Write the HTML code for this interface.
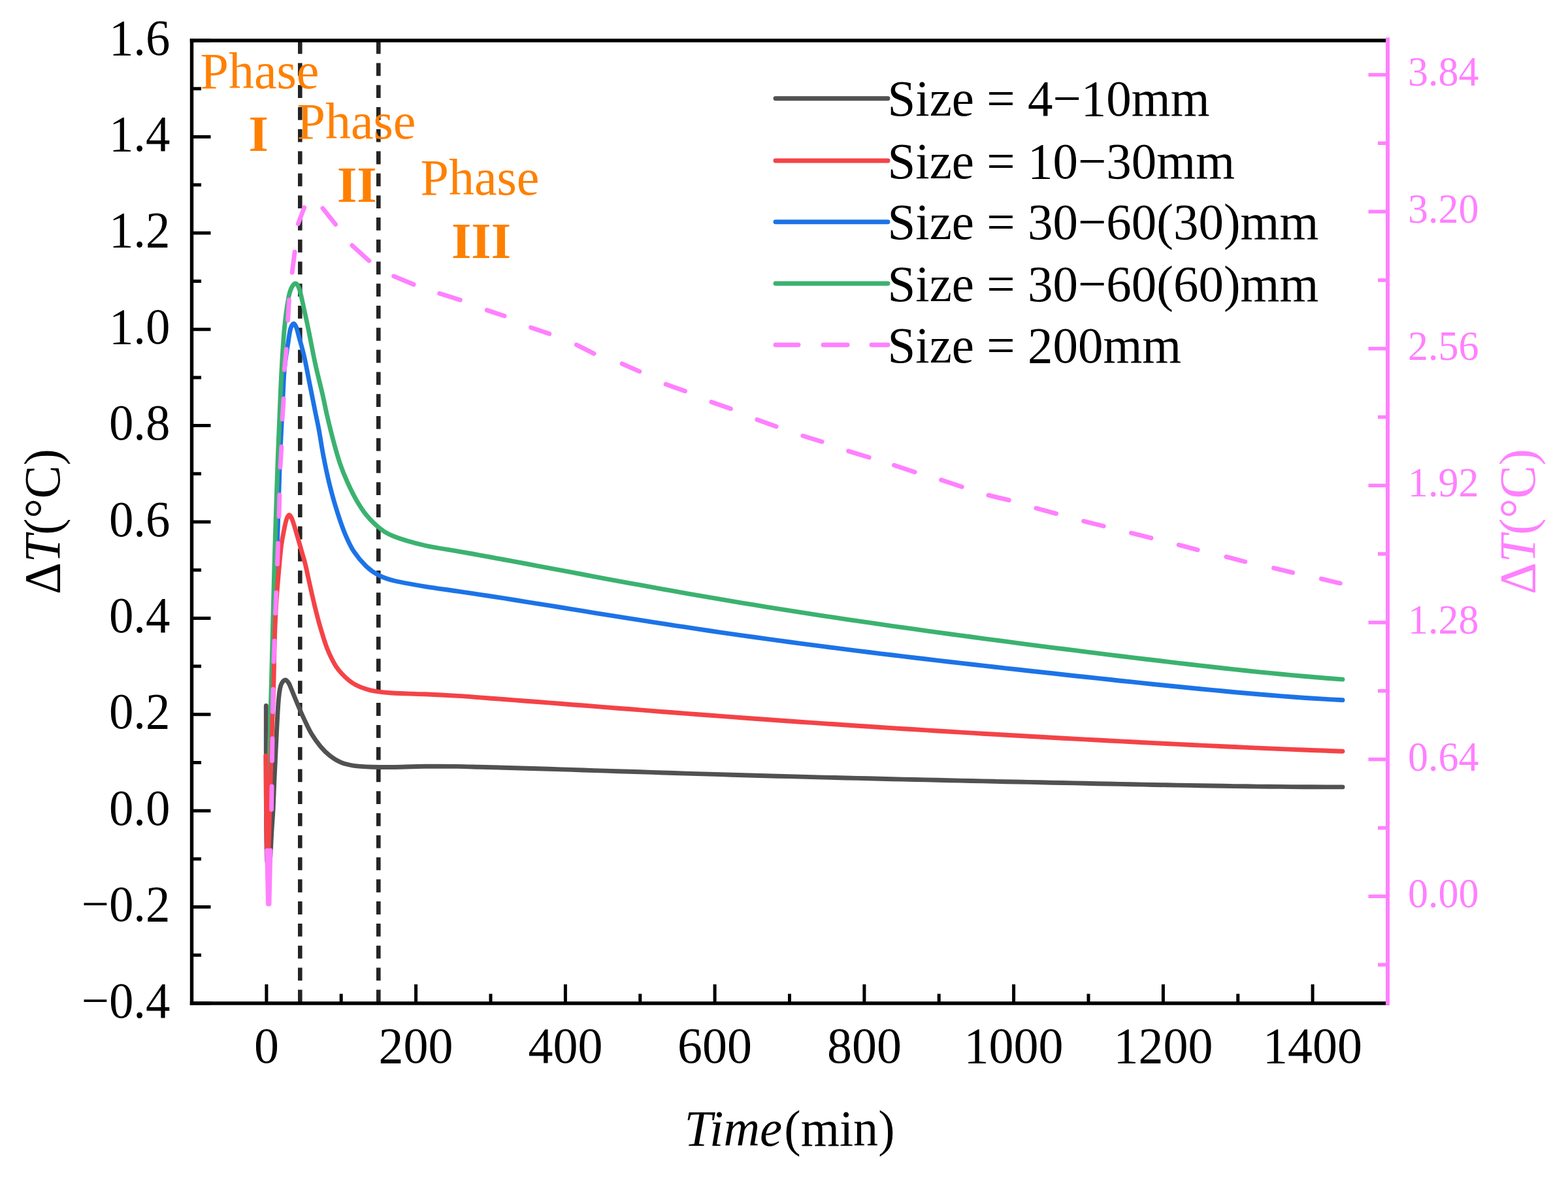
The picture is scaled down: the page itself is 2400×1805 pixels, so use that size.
<!DOCTYPE html>
<html><head><meta charset="utf-8"><title>Delta T vs Time</title><style>
html,body{margin:0;padding:0;background:#fff;overflow:hidden;}
svg{display:block;}
text{font-family:"Liberation Serif","Times New Roman",serif;}
</style></head><body>
<svg width="2400" height="1805" viewBox="0 0 2400 1805">
<rect width="100%" height="100%" fill="#fff"/>
<line x1="459.3" y1="62.7" x2="459.3" y2="1536" stroke="#242424" stroke-width="6.6" stroke-dasharray="19.8 13.98"/>
<line x1="579.3" y1="62.7" x2="579.3" y2="1536" stroke="#242424" stroke-width="6.6" stroke-dasharray="19.8 13.98"/>
<g fill="none" stroke-width="6.9" stroke-linecap="round" stroke-linejoin="round">
<path stroke="#515151" d="M407.3,1080.5C407.3,1100.4 407.2,1162.6 407.4,1200C407.5,1237.4 407.7,1284.8 408.2,1305C408.7,1325.2 409.6,1319.5 410.5,1321C411.4,1322.5 412.6,1322.5 413.5,1314C414.4,1305.5 415.2,1282.3 416,1270C416.8,1257.7 417.3,1253 418,1240C418.7,1227 419.2,1209 420,1192C420.8,1175 421.9,1153 422.6,1138C423.3,1123 423.8,1113.3 424.4,1102C425,1090.7 425.8,1078 426.5,1070C427.2,1062 427.8,1058.1 428.6,1054C429.4,1049.9 430.1,1047.7 431.5,1045.5C432.9,1043.3 435.2,1040.9 437,1041C438.8,1041.1 440.5,1043.7 442,1046C443.5,1048.3 443.8,1049.7 446,1055C448.2,1060.3 452.2,1070.3 455.3,1077.7C458.4,1085.1 461.2,1091.7 464.8,1099.4C468.4,1107.1 472.7,1116.6 477,1123.8C481.3,1131 486,1137.4 490.5,1142.8C495,1148.2 498.9,1152.2 504.1,1156.3C509.3,1160.4 515.4,1164.5 521.7,1167.2C528,1169.9 534.1,1171.2 542.1,1172.4C550.1,1173.6 560.4,1173.9 570,1174.2C579.6,1174.5 586.7,1174.7 600,1174.5C613.3,1174.3 633.3,1173.5 650,1173.3C666.7,1173.1 685.8,1173.2 700,1173.4C714.2,1173.6 723.3,1174 735,1174.3C746.7,1174.6 758.3,1174.9 770,1175.2C781.7,1175.5 793.3,1175.9 805,1176.2C816.7,1176.6 828.3,1177 840,1177.3C851.7,1177.7 863.3,1178.1 875,1178.4C886.7,1178.8 898.3,1179.2 910,1179.6C921.7,1179.9 933.3,1180.3 945,1180.7C956.7,1181.1 968.3,1181.5 980,1181.8C991.7,1182.2 1003.3,1182.6 1015,1183C1026.7,1183.3 1038.3,1183.7 1050,1184.1C1061.7,1184.4 1073.3,1184.8 1085,1185.1C1096.7,1185.5 1108.3,1185.8 1120,1186.2C1131.7,1186.5 1143.3,1186.9 1155,1187.2C1166.7,1187.5 1178.3,1187.9 1190,1188.2C1201.7,1188.5 1213.3,1188.8 1225,1189.1C1236.7,1189.4 1248.3,1189.8 1260,1190.1C1271.7,1190.4 1283.3,1190.7 1295,1191C1306.7,1191.3 1318.3,1191.5 1330,1191.8C1341.7,1192.1 1353.3,1192.4 1365,1192.7C1376.7,1193 1388.3,1193.2 1400,1193.5C1411.7,1193.8 1423.3,1194 1435,1194.3C1446.7,1194.6 1458.3,1194.8 1470,1195.1C1481.7,1195.4 1493.3,1195.6 1505,1195.9C1516.7,1196.2 1528.3,1196.4 1540,1196.7C1551.7,1196.9 1563.3,1197.2 1575,1197.4C1586.7,1197.7 1598.3,1197.9 1610,1198.2C1621.7,1198.4 1633.3,1198.7 1645,1198.9C1656.7,1199.2 1668.3,1199.4 1680,1199.7C1691.7,1199.9 1703.3,1200.2 1715,1200.4C1726.7,1200.6 1738.3,1200.9 1750,1201.1C1761.7,1201.3 1773.3,1201.6 1785,1201.8C1796.7,1202 1808.3,1202.2 1820,1202.4C1831.7,1202.6 1843.3,1202.8 1855,1203C1866.7,1203.2 1878.3,1203.4 1890,1203.6C1901.7,1203.7 1913.3,1203.9 1925,1204.1C1936.7,1204.2 1948.3,1204.3 1960,1204.4C1971.7,1204.6 1983.3,1204.7 1995,1204.7C2006.7,1204.8 2020,1204.9 2030,1204.9C2040,1204.9 2050.8,1204.9 2055,1204.9"/>
<path stroke="#1c73e7" d="M407.5,1230C407.8,1235.8 408.4,1264.2 409,1265C409.6,1265.8 410.3,1252.5 411,1235C411.7,1217.5 412.2,1185.8 413,1160C413.8,1134.2 414.7,1103.3 415.5,1080C416.3,1056.7 417.2,1040 418,1020C418.8,1000 419.7,983.3 420.5,960C421.3,936.7 421.9,913.9 423,880C424.1,846.1 425.8,787.5 426.8,756.4C427.8,725.3 428,714.3 428.9,693.3C429.8,672.3 430.9,651.3 432,630.3C433.1,609.3 433.8,584.2 435.2,567.2C436.6,550.2 438.9,538.5 440.5,528C442.1,517.5 443,509.4 444.5,504C446,498.6 447.8,496 449.3,495.5C450.8,495 452.2,497.8 453.5,501C454.8,504.2 455.3,507.1 457.3,514.6C459.3,522.1 462.9,533.9 465.7,546.2C468.5,558.5 471.3,574.2 474.1,588.2C476.9,602.2 480.1,618.3 482.5,630.3C484.9,642.3 486.4,648.4 488.5,660C490.6,671.6 492.6,686 495.4,700C498.1,714 501.5,730.1 505,744.2C508.5,758.3 512.6,772.4 516.5,784.6C520.4,796.8 523.9,807.4 528.1,817.3C532.3,827.2 536,835.9 541.5,844.2C547,852.5 554.4,861.2 560.8,867.3C567.2,873.4 572.6,877.1 580,880.8C587.4,884.5 593.3,886.7 605,889.5C616.7,892.3 634.2,895.2 650,897.8C665.8,900.4 685.8,903 700,905.1C714.2,907.1 723.3,908.5 735,910.3C746.7,912.1 758.3,913.9 770,915.7C781.7,917.6 793.3,919.4 805,921.3C816.7,923.2 828.3,925.1 840,926.9C851.7,928.8 863.3,930.7 875,932.6C886.7,934.5 898.3,936.4 910,938.3C921.7,940.2 933.3,942 945,943.9C956.7,945.8 968.3,947.6 980,949.4C991.7,951.3 1003.3,953.1 1015,954.9C1026.7,956.7 1038.3,958.5 1050,960.2C1061.7,962 1073.3,963.7 1085,965.5C1096.7,967.2 1108.3,968.9 1120,970.6C1131.7,972.2 1143.3,973.9 1155,975.5C1166.7,977.2 1178.3,978.8 1190,980.4C1201.7,982 1213.3,983.5 1225,985.1C1236.7,986.6 1248.3,988.2 1260,989.7C1271.7,991.2 1283.3,992.7 1295,994.2C1306.7,995.6 1318.3,997.1 1330,998.5C1341.7,1000 1353.3,1001.4 1365,1002.8C1376.7,1004.2 1388.3,1005.6 1400,1007C1411.7,1008.4 1423.3,1009.7 1435,1011.1C1446.7,1012.5 1458.3,1013.8 1470,1015.1C1481.7,1016.5 1493.3,1017.8 1505,1019.1C1516.7,1020.5 1528.3,1021.8 1540,1023.1C1551.7,1024.4 1563.3,1025.7 1575,1027C1586.7,1028.3 1598.3,1029.6 1610,1030.8C1621.7,1032.1 1633.3,1033.4 1645,1034.7C1656.7,1035.9 1668.3,1037.2 1680,1038.4C1691.7,1039.7 1703.3,1040.9 1715,1042.2C1726.7,1043.4 1738.3,1044.6 1750,1045.9C1761.7,1047.1 1773.3,1048.3 1785,1049.5C1796.7,1050.7 1808.3,1051.8 1820,1053C1831.7,1054.1 1843.3,1055.3 1855,1056.4C1866.7,1057.5 1878.3,1058.6 1890,1059.7C1901.7,1060.7 1913.3,1061.7 1925,1062.7C1936.7,1063.7 1948.3,1064.7 1960,1065.6C1971.7,1066.5 1983.3,1067.4 1995,1068.2C2006.7,1069 2020,1069.8 2030,1070.4C2040,1071 2050.8,1071.5 2055,1071.8"/>
<path stroke="#3bb26f" d="M407.5,1240C407.8,1243.7 408.4,1265.3 409,1262C409.6,1258.7 410.2,1240.3 410.8,1220C411.4,1199.7 412.2,1161.7 412.8,1140C413.4,1118.3 413.8,1106.7 414.2,1090C414.6,1073.3 414.9,1063.3 415.5,1040C416.1,1016.7 417.1,979.2 417.8,950C418.6,920.8 419.1,897.3 420,865C420.9,832.7 422.5,785 423.4,756.4C424.3,727.8 424.8,714.3 425.6,693.3C426.4,672.3 427.3,651.3 428.2,630.3C429.1,609.3 429.8,588.2 431,567.2C432.2,546.2 433.4,522.6 435.2,504.1C436.9,485.7 439.6,467.2 441.5,456.5C443.4,445.8 444.6,443.8 446.5,440C448.4,436.2 450.8,433.7 452.7,434C454.6,434.3 456.4,437.7 458,442C459.6,446.3 460.2,449.6 462.5,460C464.8,470.4 468.7,488 472,504.1C475.3,520.2 478.9,540.2 482.5,556.7C486.1,573.2 490.4,589.4 493.5,603C496.6,616.6 498.3,626.2 501.2,638.5C504.1,650.8 507.6,665 510.8,676.9C514,688.8 516.9,699.3 520.4,709.6C523.9,719.9 527.7,729.2 531.9,738.5C536.1,747.8 540.6,757.1 545.4,765.4C550.2,773.7 555,781.5 560.8,788.5C566.6,795.5 573,802.2 580,807.7C587,813.2 591.4,816.7 603.1,821.2C614.8,825.8 633.9,831.2 650,835C666.1,838.8 685.8,841.3 700,843.8C714.2,846.3 723.3,847.9 735,850.1C746.7,852.2 758.3,854.3 770,856.5C781.7,858.6 793.3,860.8 805,863C816.7,865.2 828.3,867.4 840,869.6C851.7,871.8 863.3,874 875,876.2C886.7,878.4 898.3,880.6 910,882.8C921.7,885 933.3,887.1 945,889.3C956.7,891.5 968.3,893.6 980,895.7C991.7,897.9 1003.3,900 1015,902.1C1026.7,904.2 1038.3,906.2 1050,908.3C1061.7,910.4 1073.3,912.4 1085,914.4C1096.7,916.4 1108.3,918.4 1120,920.4C1131.7,922.3 1143.3,924.3 1155,926.2C1166.7,928.1 1178.3,930 1190,931.9C1201.7,933.7 1213.3,935.6 1225,937.4C1236.7,939.2 1248.3,941 1260,942.8C1271.7,944.6 1283.3,946.3 1295,948.1C1306.7,949.8 1318.3,951.5 1330,953.2C1341.7,955 1353.3,956.6 1365,958.3C1376.7,960 1388.3,961.6 1400,963.2C1411.7,964.9 1423.3,966.5 1435,968.1C1446.7,969.7 1458.3,971.3 1470,972.9C1481.7,974.4 1493.3,976 1505,977.6C1516.7,979.1 1528.3,980.7 1540,982.2C1551.7,983.7 1563.3,985.2 1575,986.8C1586.7,988.3 1598.3,989.8 1610,991.3C1621.7,992.8 1633.3,994.2 1645,995.7C1656.7,997.2 1668.3,998.7 1680,1000.1C1691.7,1001.6 1703.3,1003 1715,1004.5C1726.7,1005.9 1738.3,1007.3 1750,1008.7C1761.7,1010.1 1773.3,1011.5 1785,1012.9C1796.7,1014.3 1808.3,1015.7 1820,1017C1831.7,1018.4 1843.3,1019.7 1855,1021C1866.7,1022.3 1878.3,1023.6 1890,1024.9C1901.7,1026.1 1913.3,1027.4 1925,1028.6C1936.7,1029.8 1948.3,1030.9 1960,1032C1971.7,1033.2 1983.3,1034.3 1995,1035.3C2006.7,1036.3 2020,1037.4 2030,1038.2C2040,1039 2050.8,1039.8 2055,1040.1"/>
<path stroke="#f44347" d="M406.8,1157C406.9,1169.2 407.1,1206.5 407.4,1230C407.7,1253.5 408,1286.2 408.6,1298C409.2,1309.8 410.1,1310.7 410.8,1301C411.5,1291.3 412.1,1263.5 412.8,1240C413.5,1216.5 414.3,1183.3 415,1160C415.7,1136.7 416.4,1116.7 417,1100C417.6,1083.3 418,1076.7 418.5,1060C419,1043.3 419.4,1017.5 419.8,1000C420.2,982.5 420.6,968.8 421.2,955C421.8,941.2 422.2,931.5 423.2,917C424.2,902.5 426.1,881.7 427.3,868C428.5,854.3 429.3,844.7 430.6,835C431.9,825.3 433.8,816.3 435.1,809.6C436.4,802.9 437.4,798.5 438.6,795C439.8,791.5 441.1,788.9 442.3,788.5C443.5,788.1 444.8,790.1 446,792.5C447.2,794.9 448.1,797.5 449.8,803C451.6,808.5 454.5,818.8 456.5,825.6C458.5,832.4 459.9,837.8 461.7,844C463.4,850.2 465.2,855.5 467,862.6C468.8,869.7 470.5,878.5 472.3,886.4C474.1,894.3 475.8,902.5 477.6,910.2C479.4,917.9 481.2,926 482.9,932.7C484.5,939.4 486.1,945.2 487.5,950.5C488.9,955.8 490.1,959.7 491.5,964.4C492.9,969.1 494.3,974 495.9,978.8C497.5,983.6 499,988.5 500.9,993.3C502.8,998.1 505.1,1003.1 507.4,1007.7C509.7,1012.3 512,1016.7 514.6,1020.7C517.2,1024.7 520,1028 523.3,1031.5C526.5,1035 530.5,1038.7 534.1,1041.6C537.7,1044.5 540.7,1046.6 544.9,1048.8C549.1,1051 554.5,1053 559.3,1054.5C564.1,1056 566.9,1057 573.7,1058.1C580.5,1059.2 587.3,1060.2 600,1061C612.7,1061.8 633.3,1062.1 650,1062.8C666.7,1063.5 685.8,1064.5 700,1065.4C714.2,1066.2 723.3,1067 735,1067.9C746.7,1068.8 758.3,1069.6 770,1070.5C781.7,1071.4 793.3,1072.3 805,1073.2C816.7,1074.1 828.3,1075 840,1075.9C851.7,1076.8 863.3,1077.8 875,1078.7C886.7,1079.6 898.3,1080.5 910,1081.4C921.7,1082.4 933.3,1083.3 945,1084.2C956.7,1085.1 968.3,1086 980,1086.9C991.7,1087.9 1003.3,1088.8 1015,1089.7C1026.7,1090.6 1038.3,1091.5 1050,1092.4C1061.7,1093.3 1073.3,1094.2 1085,1095C1096.7,1095.9 1108.3,1096.8 1120,1097.6C1131.7,1098.5 1143.3,1099.4 1155,1100.2C1166.7,1101.1 1178.3,1101.9 1190,1102.7C1201.7,1103.6 1213.3,1104.4 1225,1105.2C1236.7,1106 1248.3,1106.8 1260,1107.6C1271.7,1108.4 1283.3,1109.2 1295,1110C1306.7,1110.8 1318.3,1111.6 1330,1112.3C1341.7,1113.1 1353.3,1113.8 1365,1114.6C1376.7,1115.3 1388.3,1116.1 1400,1116.8C1411.7,1117.5 1423.3,1118.3 1435,1119C1446.7,1119.7 1458.3,1120.4 1470,1121.1C1481.7,1121.8 1493.3,1122.5 1505,1123.2C1516.7,1123.9 1528.3,1124.6 1540,1125.2C1551.7,1125.9 1563.3,1126.6 1575,1127.2C1586.7,1127.9 1598.3,1128.6 1610,1129.2C1621.7,1129.9 1633.3,1130.5 1645,1131.1C1656.7,1131.8 1668.3,1132.4 1680,1133C1691.7,1133.7 1703.3,1134.3 1715,1134.9C1726.7,1135.5 1738.3,1136.1 1750,1136.7C1761.7,1137.3 1773.3,1137.9 1785,1138.5C1796.7,1139.1 1808.3,1139.7 1820,1140.2C1831.7,1140.8 1843.3,1141.4 1855,1141.9C1866.7,1142.5 1878.3,1143 1890,1143.5C1901.7,1144.1 1913.3,1144.6 1925,1145.1C1936.7,1145.6 1948.3,1146.1 1960,1146.6C1971.7,1147.1 1983.3,1147.6 1995,1148C2006.7,1148.5 2020,1149 2030,1149.3C2040,1149.7 2050.8,1150.1 2055,1150.2"/>
<path stroke="#ff80ff" d="M451.1,385.6 L447.2,417.1 M465.7,317.7 L456.3,342.6 M493.9,318.9 L513.6,343.5 M538.9,375.7 L564.9,399.2 M602.8,422.9 L633.2,435.5 M672.7,449.3 L704.4,459.3 M745.4,474.9 L772.1,483.7 M812.7,501.4 L840.8,511.1 M882.4,527.9 L909.1,541.3 M952.1,556.8 L978.8,568.7 M1019.1,588.3 L1048.5,598.8 M1089,615.4 L1118.4,625.8 M1158.9,642.4 L1188.2,652.9 M1228.8,667.2 L1258.1,676.3 M1298.6,690.6 L1330.2,700.2 M1368.5,712.3 L1400.1,722.7 M1440.6,734.8 L1472.2,745.3 M1512.9,758.2 L1544.3,765.7 M1585.9,778 L1616.6,786.3 M1658.6,797.8 L1689.3,805.5 M1731.4,816 L1762,823.7 M1804.1,834.2 L1833.1,841.8 M1876.8,852.4 L1905.8,860 M1949.5,869.6 L1978.6,876.6 M2022.3,886.1 L2051.3,893.1 M442.5,459 L440.6,490.3 M438.3,534.7 L435.3,566 M434.1,610.4 L432.1,641.7 M430.9,684 L429,715.3 M427.9,757.7 L427,790.6 M425.6,831.8 L424.5,863.6 M422.8,907.1 L421.5,938.9 M420.1,981.3 L419,1013.1 M418.2,1055.2 L417.5,1089.8 M417,1130.8 L416.5,1164.8 M416,1203.9 L415.5,1239.2 M408.6,1302 L409.5,1340 L410.5,1384 M412.0,1384 L413.0,1340 L414.0,1302"/>
</g>
<path d="M293.5,1536 H322.5 M293.5,1388.6 H322.5 M293.5,1241.2 H322.5 M293.5,1093.8 H322.5 M293.5,946.4 H322.5 M293.5,799 H322.5 M293.5,651.6 H322.5 M293.5,504.2 H322.5 M293.5,356.8 H322.5 M293.5,209.4 H322.5 M293.5,62 H322.5 M293.5,1462.3 H308 M293.5,1314.9 H308 M293.5,1167.5 H308 M293.5,1020.1 H308 M293.5,872.7 H308 M293.5,725.3 H308 M293.5,577.9 H308 M293.5,430.5 H308 M293.5,283.1 H308 M293.5,135.7 H308 M407.9,1536 V1507 M636.6,1536 V1507 M865.4,1536 V1507 M1094.1,1536 V1507 M1322.9,1536 V1507 M1551.6,1536 V1507 M1780.4,1536 V1507 M2009.1,1536 V1507 M522.2,1536 V1521.5 M751,1536 V1521.5 M979.8,1536 V1521.5 M1208.5,1536 V1521.5 M1437.2,1536 V1521.5 M1666,1536 V1521.5 M1894.8,1536 V1521.5" stroke="#000" stroke-width="5" fill="none"/>
<path d="M2123.5,1372.2 H2094.5 M2123.5,1162.6 H2094.5 M2123.5,953 H2094.5 M2123.5,743.3 H2094.5 M2123.5,533.7 H2094.5 M2123.5,324 H2094.5 M2123.5,114.4 H2094.5 M2123.5,1477 H2109 M2123.5,1267.4 H2109 M2123.5,1057.8 H2109 M2123.5,848.1 H2109 M2123.5,638.5 H2109 M2123.5,428.9 H2109 M2123.5,219.2 H2109" stroke="#ff80ff" stroke-width="5.5" fill="none"/>
<path d="M2123.5,62 V62 H293.5 M293.5,1536 H2123.5" stroke="#000" stroke-width="5.4" fill="none" stroke-linecap="square"/>
<path d="M293.5,62 V1536" stroke="#000" stroke-width="5.4" fill="none" stroke-linecap="square"/>
<path d="M2124,57.4 V1538.7" stroke="#ff80ff" stroke-width="6" fill="none" stroke-linecap="butt"/>
<g fill="#000">
<text transform="translate(260.5,1557.5) scale(0.985,1.025)" font-size="76" text-anchor="end">−0.4</text>
<text transform="translate(260.5,1410.1) scale(0.985,1.025)" font-size="76" text-anchor="end">−0.2</text>
<text transform="translate(260.5,1262.7) scale(0.985,1.025)" font-size="76" text-anchor="end">0.0</text>
<text transform="translate(260.5,1115.3) scale(0.985,1.025)" font-size="76" text-anchor="end">0.2</text>
<text transform="translate(260.5,967.9) scale(0.985,1.025)" font-size="76" text-anchor="end">0.4</text>
<text transform="translate(260.5,820.5) scale(0.985,1.025)" font-size="76" text-anchor="end">0.6</text>
<text transform="translate(260.5,673.1) scale(0.985,1.025)" font-size="76" text-anchor="end">0.8</text>
<text transform="translate(260.5,525.7) scale(0.985,1.025)" font-size="76" text-anchor="end">1.0</text>
<text transform="translate(260.5,378.3) scale(0.985,1.025)" font-size="76" text-anchor="end">1.2</text>
<text transform="translate(260.5,230.9) scale(0.985,1.025)" font-size="76" text-anchor="end">1.4</text>
<text transform="translate(260.5,83.5) scale(0.985,1.025)" font-size="76" text-anchor="end">1.6</text>
<text transform="translate(407.9,1627) scale(1.000,1.025)" font-size="76" text-anchor="middle">0</text>
<text transform="translate(636.6,1627) scale(1.000,1.025)" font-size="76" text-anchor="middle">200</text>
<text transform="translate(865.4,1627) scale(1.000,1.025)" font-size="76" text-anchor="middle">400</text>
<text transform="translate(1094.1,1627) scale(1.000,1.025)" font-size="76" text-anchor="middle">600</text>
<text transform="translate(1322.9,1627) scale(1.000,1.025)" font-size="76" text-anchor="middle">800</text>
<text transform="translate(1551.6,1627) scale(1.000,1.025)" font-size="76" text-anchor="middle">1000</text>
<text transform="translate(1780.4,1627) scale(1.000,1.025)" font-size="76" text-anchor="middle">1200</text>
<text transform="translate(2009.1,1627) scale(1.000,1.025)" font-size="76" text-anchor="middle">1400</text>
</g>
<g fill="#ff80ff">
<text transform="translate(2155,1389.2) scale(1.000,1.025)" font-size="62">0.00</text>
<text transform="translate(2155,1179.6) scale(1.000,1.025)" font-size="62">0.64</text>
<text transform="translate(2155,970) scale(1.000,1.025)" font-size="62">1.28</text>
<text transform="translate(2155,760.3) scale(1.000,1.025)" font-size="62">1.92</text>
<text transform="translate(2155,550.7) scale(1.000,1.025)" font-size="62">2.56</text>
<text transform="translate(2155,341) scale(1.000,1.025)" font-size="62">3.20</text>
<text transform="translate(2155,131.4) scale(1.000,1.025)" font-size="62">3.84</text>
</g>
<text transform="translate(91,910) rotate(-90) scale(1.000,1.025)" font-size="76">Δ<tspan font-style="italic">T</tspan>(°C)</text>
<text transform="translate(2349,910) rotate(-90) scale(1.000,1.025)" font-size="76" fill="#ff80ff">Δ<tspan font-style="italic">T</tspan>(°C)</text>
<text transform="translate(1047.5,1753.5) scale(1.000,1.025)" font-size="77" font-style="italic">Time</text>
<text transform="translate(1200.3,1753.5) scale(1.000,1.025)" font-size="76.2">(min)</text>
<g fill="#ff8000">
<text transform="translate(306.5,135)" font-size="78">Phase</text>
<text transform="translate(380.5,230.8)" font-size="78" font-weight="bold">I</text>
<text transform="translate(454.5,212.4)" font-size="78">Phase</text>
<text transform="translate(516,308.6)" font-size="78" font-weight="bold">II</text>
<text transform="translate(643.5,298.3)" font-size="78">Phase</text>
<text transform="translate(691,394.8)" font-size="78" font-weight="bold">III</text>
</g>
<g>
<path d="M1187,150.7 H1359" stroke="#515151" stroke-width="6.9" stroke-linecap="round"/>
<text transform="translate(1358.5,177.2) scale(1.000,1.025)" font-size="77">Size = 4−10mm</text>
<path d="M1187,246 H1359" stroke="#f44347" stroke-width="6.9" stroke-linecap="round"/>
<text transform="translate(1358.5,272.5) scale(1.000,1.025)" font-size="77">Size = 10−30mm</text>
<path d="M1187,339.8 H1359" stroke="#1c73e7" stroke-width="6.9" stroke-linecap="round"/>
<text transform="translate(1358.5,366.3) scale(1.000,1.025)" font-size="77">Size = 30−60(30)mm</text>
<path d="M1187,434 H1359" stroke="#3bb26f" stroke-width="6.9" stroke-linecap="round"/>
<text transform="translate(1358.5,460.5) scale(1.000,1.025)" font-size="77">Size = 30−60(60)mm</text>
<path d="M1187,528 H1222 M1260,528 H1297 M1334,528 H1359" stroke="#ff80ff" stroke-width="6.9" stroke-linecap="round"/>
<text transform="translate(1358.5,554.5) scale(1.000,1.025)" font-size="77">Size = 200mm</text>
</g>
</svg>
</body></html>
